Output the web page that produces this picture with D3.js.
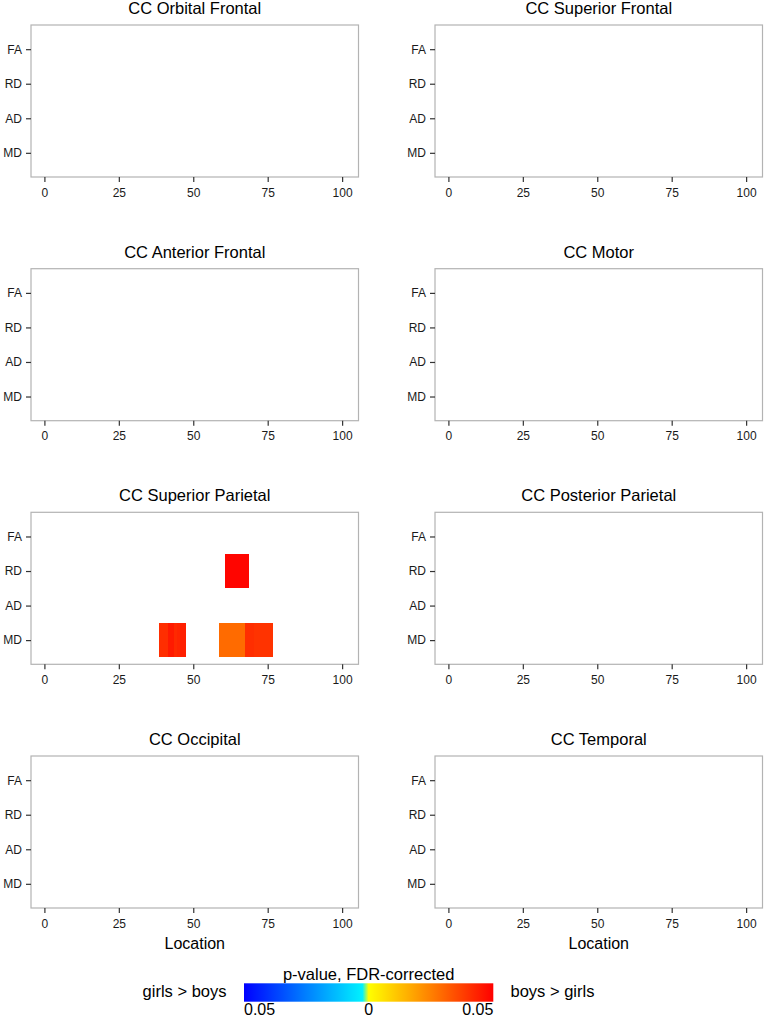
<!DOCTYPE html>
<html>
<head>
<meta charset="utf-8">
<script src="https://cdn.jsdelivr.net/npm/d3@7"></script>
<style>
  html, body { margin: 0; padding: 0; background: #fff; }
  text { font-family: "Liberation Sans", Arial, Helvetica, sans-serif; }
</style>
</head>
<body>
<svg id="chart" width="765" height="1020"></svg>
<script>
// ---- data ----
const tracts = ["CC Orbital Frontal", "CC Superior Frontal", "CC Anterior Frontal", "CC Motor",
                "CC Superior Parietal", "CC Posterior Parietal", "CC Occipital", "CC Temporal"];
const measures = ["FA", "RD", "AD", "MD"];
const xTicks = [0, 25, 50, 75, 100];

// significant nodes (signed p: + = boys > girls, - = girls > boys)
const sigTract = [
  "CC Superior Parietal","CC Superior Parietal","CC Superior Parietal","CC Superior Parietal",
  "CC Superior Parietal","CC Superior Parietal","CC Superior Parietal","CC Superior Parietal",
  "CC Superior Parietal","CC Superior Parietal","CC Superior Parietal","CC Superior Parietal",
  "CC Superior Parietal","CC Superior Parietal","CC Superior Parietal","CC Superior Parietal",
  "CC Superior Parietal","CC Superior Parietal","CC Superior Parietal","CC Superior Parietal",
  "CC Superior Parietal","CC Superior Parietal","CC Superior Parietal","CC Superior Parietal",
  "CC Superior Parietal","CC Superior Parietal","CC Superior Parietal","CC Superior Parietal",
  "CC Superior Parietal","CC Superior Parietal","CC Superior Parietal","CC Superior Parietal",
  "CC Superior Parietal","CC Superior Parietal","CC Superior Parietal"
];
const sigMeasure = [
  "RD","RD","RD","RD","RD","RD","RD","RD",
  "MD","MD","MD","MD","MD","MD","MD","MD","MD",
  "MD","MD","MD","MD","MD","MD","MD","MD","MD",
  "MD","MD","MD","MD","MD","MD","MD","MD","MD"
];
const sigLocation = [
  61,62,63,64,65,66,67,68,
  39,40,41,42,43,44,45,46,47,
  59,60,61,62,63,64,65,66,67,
  68,69,70,71,72,73,74,75,76
];
const sigP = [
  0.049,0.049,0.049,0.049,0.049,0.049,0.049,0.049,
  0.041,0.041,0.041,0.045,0.045,0.042,0.043,0.044,0.044,
  0.029,0.029,0.029,0.029,0.029,0.029,0.029,0.029,0.029,
  0.041,0.041,0.041,0.040,0.040,0.040,0.040,0.040,0.040
];

const legendTitle = "p-value, FDR-corrected";
const legendLeft = "girls > boys";
const legendRight = "boys > girls";
const legendTicks = ["0.05", "0", "0.05"];

// ---- layout ----
const svg = d3.select("#chart");
const colLeft = [31, 435];
const rowTop = [25, 268.7, 512.3, 756];
const pw = 327.5, ph = 152;
const font = "Liberation Sans, Arial, Helvetica, sans-serif";

const color = p => p >= 0
  ? d3.interpolateRgb("#ffff00", "#ff0000")(Math.min(p, 0.05) / 0.05)
  : d3.interpolateRgb("#00ffff", "#0000ff")(Math.min(-p, 0.05) / 0.05);

const tiles = sigTract.map((t, i) => ({tract: t, measure: sigMeasure[i], loc: sigLocation[i], p: sigP[i]}));

tracts.forEach((tract, i) => {
  const col = i % 2, row = Math.floor(i / 2);
  const x0 = colLeft[col], y0 = rowTop[row];
  const x = d3.scaleLinear().domain([-4.5, 105.5]).range([x0, x0 + pw]);
  const y = d3.scalePoint().domain(measures).range([y0, y0 + ph]).padding(0.7);
  const step = y.step();
  const g = svg.append("g");

  // title
  g.append("text").attr("x", x0 + pw / 2).attr("y", y0 - 11)
    .attr("text-anchor", "middle").attr("font-size", 16.5).attr("fill", "#000")
    .text(tract);

  // tiles
  g.selectAll("rect.tile").data(tiles.filter(d => d.tract === tract)).join("rect")
    .attr("class", "tile")
    .attr("x", d => x(d.loc - 0.5))
    .attr("width", d => x(d.loc + 0.5) - x(d.loc - 0.5) + 0.6)
    .attr("y", d => y(d.measure) - step / 2)
    .attr("height", step)
    .attr("shape-rendering", "crispEdges")
    .attr("fill", d => color(d.p));

  // panel border
  g.append("rect").attr("x", x0).attr("y", y0).attr("width", pw).attr("height", ph)
    .attr("fill", "none").attr("stroke", "#b3b3b3").attr("stroke-width", 1.2);

  // y axis
  const ya = g.append("g").attr("transform", `translate(${x0},0)`)
    .call(d3.axisLeft(y).tickSize(5).tickPadding(4));
  ya.select(".domain").remove();
  ya.selectAll(".tick line").attr("stroke", "#333").attr("stroke-width", 1.2);
  ya.selectAll(".tick text").attr("font-size", 12).attr("font-family", font).attr("fill", "#1a1a1a");

  // x axis
  const xa = g.append("g").attr("transform", `translate(0,${y0 + ph})`)
    .call(d3.axisBottom(x).tickValues(xTicks).tickSize(5).tickPadding(6));
  xa.select(".domain").remove();
  xa.selectAll(".tick line").attr("stroke", "#333").attr("stroke-width", 1.2);
  xa.selectAll(".tick text").attr("font-size", 12).attr("font-family", font).attr("fill", "#1a1a1a");

  if (row === 3) {
    g.append("text").attr("x", x0 + pw / 2).attr("y", y0 + ph + 40.5)
      .attr("text-anchor", "middle").attr("font-size", 16).attr("fill", "#000")
      .text("Location");
  }
});

// ---- legend ----
const lx0 = 244, lx1 = 493.3, ly = 983.3, lh = 18.4;
const defs = svg.append("defs");
const grad = defs.append("linearGradient").attr("id", "lg").attr("x1", "0%").attr("x2", "100%");
const stops = [];
const N = 20;
for (let k = 0; k <= N; k++) {
  const v = -0.05 + (0.05 * k) / N;
  stops.push({off: (k / N) * 50, c: color(v)});
}
for (let k = 0; k <= N; k++) {
  const v = (0.05 * k) / N;
  stops.push({off: 50 + (k / N) * 50, c: color(v)});
}
grad.selectAll("stop").data(stops).join("stop")
  .attr("offset", d => d.off + "%").attr("stop-color", d => d.c);

const lscale = d3.scaleLinear().domain([-0.05, 0.05]).range([lx0, lx1]);
svg.append("rect").attr("x", lscale(-0.05)).attr("y", ly)
  .attr("width", lscale(0.05) - lscale(-0.05)).attr("height", lh).attr("fill", "url(#lg)");

svg.append("text").attr("x", lscale(0)).attr("y", 980).attr("text-anchor", "middle")
  .attr("font-size", 16.5).text(legendTitle);
svg.append("text").attr("x", 226.5).attr("y", 997).attr("text-anchor", "end")
  .attr("font-size", 16.5).text(legendLeft);
svg.append("text").attr("x", 510.5).attr("y", 997).attr("text-anchor", "start")
  .attr("font-size", 16.5).text(legendRight);
const ltPos = [-0.05, 0, 0.05], ltAnchor = ["start", "middle", "end"];
svg.selectAll("text.lt").data(legendTicks).join("text").attr("class", "lt")
  .attr("x", (d, i) => lscale(ltPos[i])).attr("y", 1015)
  .attr("text-anchor", (d, i) => ltAnchor[i]).attr("font-size", 16).text(d => d);
</script>
</body>
</html>
